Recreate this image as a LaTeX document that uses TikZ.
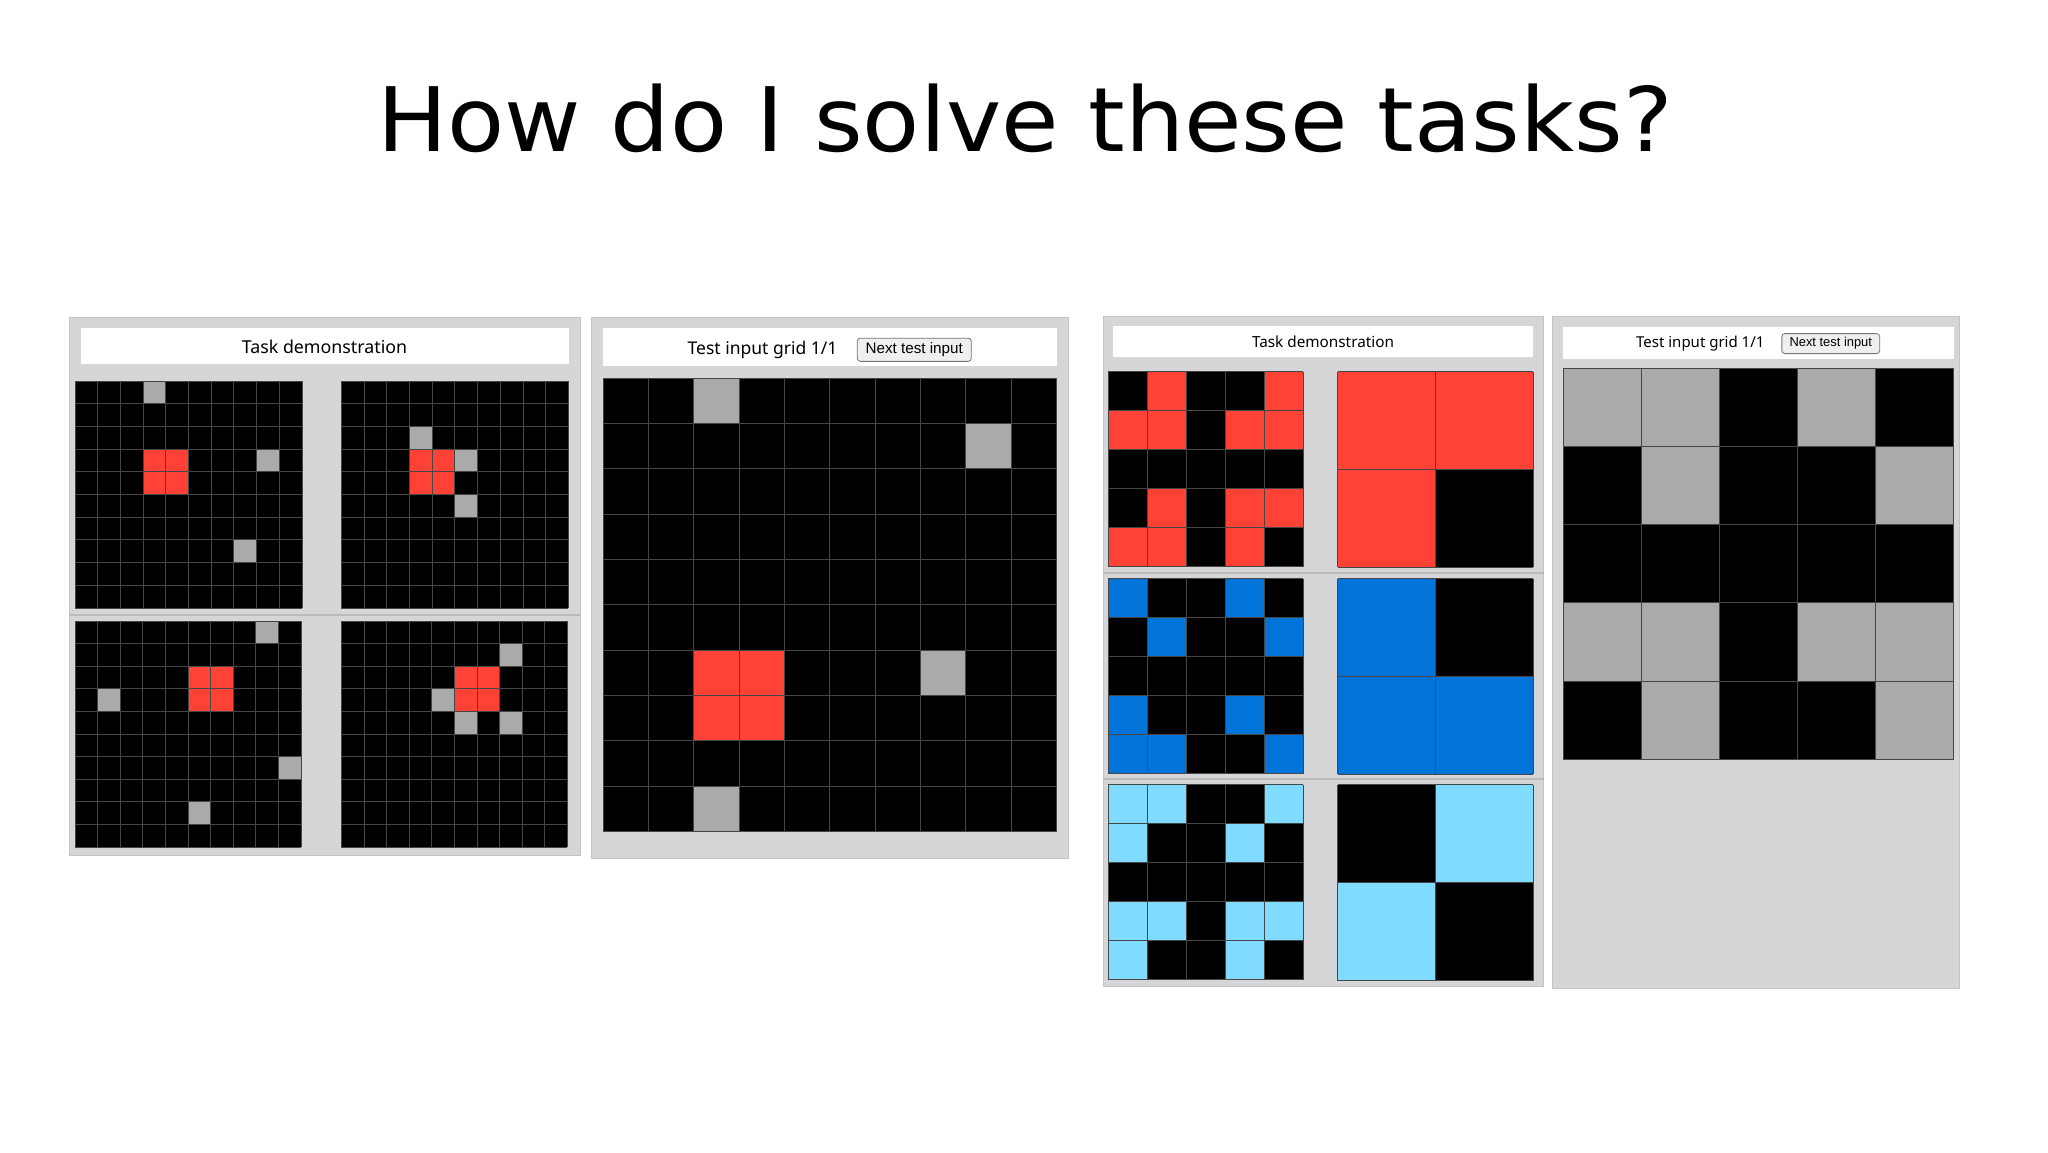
\documentclass[tikz,border=0pt]{standalone}
\usepackage{fontspec}
\usepackage{tikz}
\usetikzlibrary{positioning}

\newfontfamily\titlefont[FakeStretch=1.05]{DejaVu Sans}
\newfontfamily\uifont{Noto Sans}
\newfontfamily\btnfont{Liberation Sans}

\definecolor{arcK}{HTML}{000000}
\definecolor{arcR}{HTML}{FF4136}
\definecolor{arcB}{HTML}{0074D9}
\definecolor{arcL}{HTML}{7FDBFF}
\definecolor{arcG}{HTML}{AAAAAA}
\definecolor{panelbg}{HTML}{D6D6D8}
\definecolor{panelrim}{HTML}{C4C4C6}
\definecolor{seprim}{HTML}{BBBBBD}
\definecolor{cellrim}{HTML}{464646}
\definecolor{btnbg}{HTML}{EFEFEF}
\definecolor{btnrim}{HTML}{767676}

% cell grid: x, y (top left), cell size, cells per side, coloured cells col/row/colour
\newcommand{\arcgrid}[5]{%
	\fill[arcK] (#1,#2) rectangle ++(#4*#3,#4*#3);
	\foreach \gx/\gy/\gc in {#5}
		\fill[\gc] (#1+\gx*#3,#2+\gy*#3) rectangle ++(#3,#3);
	\foreach \gi in {0,...,#4}{
		\draw[cellline] (#1+\gi*#3,#2) -- ++(0,#4*#3);
		\draw[cellline] (#1,#2+\gi*#3) -- ++(#4*#3,0);
	}
}

\begin{document}
\begin{tikzpicture}[x=0.5pt, y=-0.5pt]
	\tikzstyle{panel}=[fill=panelbg, draw=panelrim, line width=0.5pt]
	\tikzstyle{header}=[fill=white]
	\tikzstyle{sep}=[draw=seprim, line width=1pt]
	\tikzstyle{cellline}=[draw=cellrim, line width=0.5pt]
	\tikzstyle{caption}=[inner sep=0pt, anchor=base]
	\tikzstyle{btn}=[draw=btnrim, fill=btnbg, line width=0.4pt,
		rounded corners=1.5pt, inner sep=0pt]
	\useasboundingbox (0,0) rectangle (2048,1152);
	\fill[white] (0,0) rectangle (2048,1152);
	% title
	\node[caption, font=\titlefont\fontsize{44.5}{50}\selectfont]
	(title) at (1025,151) {How do I solve these tasks?};
	% % Panels
	% first task, demonstration
	\fill[panel] (69,317) rectangle (580,855);
	\fill[header] (81,328) rectangle (568.5,364);
	\node[caption, font=\uifont\fontsize{8.9}{10}\selectfont]
	(demoA) at (324.5,353) {Task demonstration};
	\arcgrid{75}{381}{22.7}{10}{3/0/arcG, 3/3/arcR, 4/3/arcR, 3/4/arcR,
		4/4/arcR, 8/3/arcG, 7/7/arcG}
	\arcgrid{341.4}{381}{22.7}{10}{3/2/arcG, 3/3/arcR, 4/3/arcR, 3/4/arcR,
		4/4/arcR, 5/3/arcG, 5/5/arcG}
	\draw[sep] (69,614.6) -- (580,614.6);
	\arcgrid{75}{621}{22.6}{10}{8/0/arcG, 5/2/arcR, 6/2/arcR, 5/3/arcR,
		6/3/arcR, 1/3/arcG, 9/6/arcG, 5/8/arcG}
	\arcgrid{341.4}{621}{22.6}{10}{7/1/arcG, 5/2/arcR, 6/2/arcR, 5/3/arcR,
		6/3/arcR, 4/3/arcG, 5/4/arcG, 7/4/arcG}
	% first task, test input
	\fill[panel] (591.7,317) rectangle (1068.4,858);
	\fill[header] (602.5,328) rectangle (1056.6,366);
	\node[caption, anchor=base west, font=\uifont\fontsize{8.75}{10}\selectfont]
	(testA) at (687.3,354.3) {Test input grid 1/1};
	\node[btn, right=9.5pt of testA, minimum width=57pt, minimum height=11.6pt,
		font=\btnfont\fontsize{7.6}{9}\selectfont]
	(nextA) {Next test input};
	\arcgrid{603}{378}{45.36}{10}{2/0/arcG, 8/1/arcG, 2/6/arcR, 3/6/arcR,
		2/7/arcR, 3/7/arcR, 7/6/arcG, 2/9/arcG}
	% second task, demonstration
	\fill[panel] (1103.5,316.5) rectangle (1543.8,986);
	\fill[header] (1112.5,325.5) rectangle (1533.3,356.5);
	\node[caption, font=\uifont\fontsize{7.65}{9}\selectfont]
	(demoB) at (1323,347) {Task demonstration};
	\arcgrid{1108.3}{371.7}{39}{5}{1/0/arcR, 4/0/arcR, 0/1/arcR, 1/1/arcR,
		3/1/arcR, 4/1/arcR, 1/3/arcR, 3/3/arcR, 4/3/arcR, 0/4/arcR, 1/4/arcR,
		3/4/arcR}
	\arcgrid{1337.7}{371.7}{97.8}{2}{0/0/arcR, 1/0/arcR, 0/1/arcR}
	\draw[sep] (1103.5,572.6) -- (1543.8,572.6);
	\arcgrid{1108.3}{578.7}{39}{5}{0/0/arcB, 3/0/arcB, 1/1/arcB, 4/1/arcB,
		0/3/arcB, 3/3/arcB, 0/4/arcB, 1/4/arcB, 4/4/arcB}
	\arcgrid{1337.7}{578.7}{97.8}{2}{0/0/arcB, 0/1/arcB, 1/1/arcB}
	\draw[sep] (1103.5,779.2) -- (1543.8,779.2);
	\arcgrid{1108.3}{784.9}{39}{5}{0/0/arcL, 1/0/arcL, 4/0/arcL, 0/1/arcL,
		3/1/arcL, 0/3/arcL, 1/3/arcL, 3/3/arcL, 4/3/arcL, 0/4/arcL, 3/4/arcL}
	\arcgrid{1337.7}{784.9}{97.8}{2}{1/0/arcL, 0/1/arcL}
	% second task, test input
	\fill[panel] (1552.2,316.5) rectangle (1959,988);
	\fill[header] (1563,326.7) rectangle (1953.5,358.5);
	\node[caption, anchor=base west, font=\uifont\fontsize{7.5}{9}\selectfont]
	(testB) at (1635.7,347.5) {Test input grid 1/1};
	\node[btn, right=8.3pt of testB, minimum width=48.9pt, minimum height=10pt,
		font=\btnfont\fontsize{6.45}{8}\selectfont]
	(nextB) {Next test input};
	\arcgrid{1563}{368.6}{78.1}{5}{0/0/arcG, 1/0/arcG, 3/0/arcG, 1/1/arcG,
		4/1/arcG, 0/3/arcG, 1/3/arcG, 3/3/arcG, 4/3/arcG, 1/4/arcG, 4/4/arcG}
\end{tikzpicture}
\end{document}
